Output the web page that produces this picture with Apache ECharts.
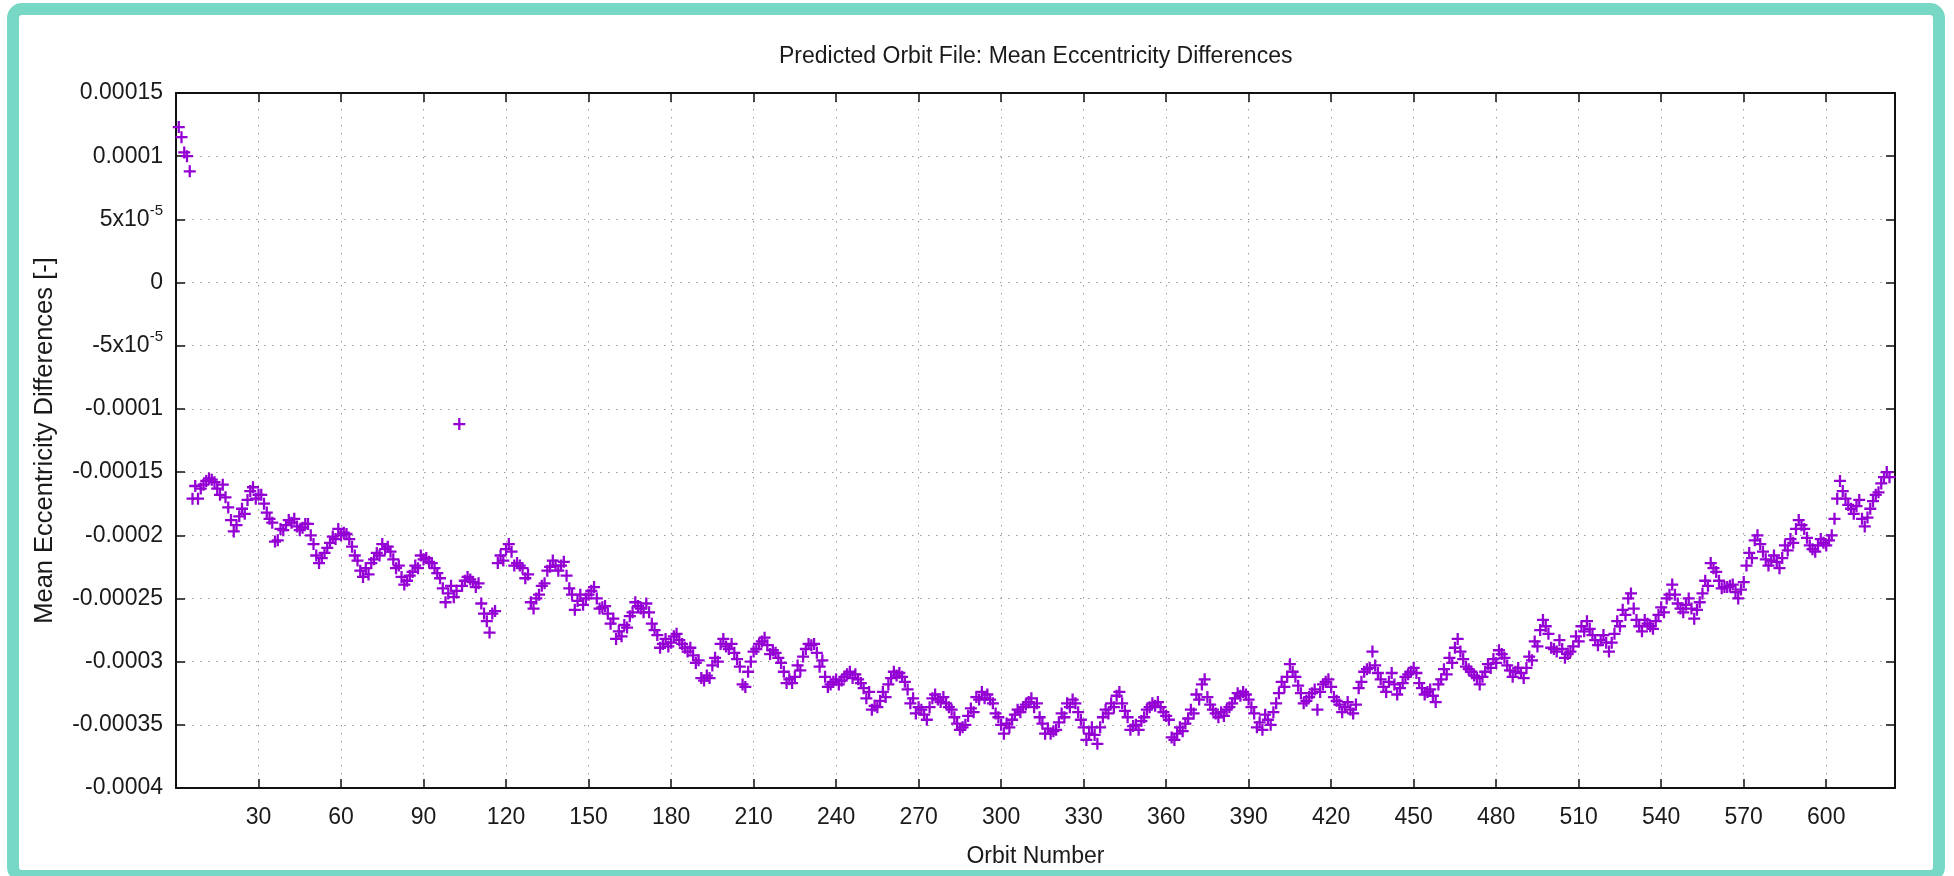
<!DOCTYPE html>
<html>
<head>
<meta charset="utf-8">
<title>Predicted Orbit File: Mean Eccentricity Differences</title>
<script src="https://cdn.jsdelivr.net/npm/echarts@6/dist/echarts.min.js"></script>
<style>
  html, body { margin: 0; padding: 0; width: 1954px; height: 876px; overflow: hidden; background: #fff; }
  .frame {
    position: absolute; left: 7px; top: 3px;
    width: 1914px; height: 855px;
    border: 12px solid #78d8c6; border-radius: 15px; background: #fff;
  }
  #chart { position: absolute; left: 0; top: 0; width: 1954px; height: 876px; }
</style>
</head>
<body>
<div class="frame"></div>
<div id="chart"></div>
<script>
// mean eccentricity differences, one value per orbit, in units of 1e-6
const ORBIT_START = 1;
const UNIT = 1e-6;

const eccDiff001to100 = [
  123, 115, 103, 100, 88,
  -171, -161, -171, -163, -160, -157, -155, -156, -158, -163,
  -168, -160, -170, -178, -188, -197, -192, -185, -179, -183,
  -172, -165, -162, -171, -168, -168, -175, -182, -187, -190,
  -205, -204, -195, -196, -192, -188, -190, -187, -193, -196,
  -194, -191, -191, -200, -207, -216, -222, -218, -214, -210,
  -206, -201, -203, -195, -200, -198, -199, -203, -209, -216,
  -220, -228, -233, -226, -231, -222, -219, -214, -216, -207,
  -211, -209, -213, -219, -226, -224, -233, -239, -236, -232,
  -229, -224, -226, -216, -219, -218, -221, -222, -226, -230,
  -234, -242, -253, -246, -240
];

const eccDiff101to200 = [
  -249, -244, -112, -240, -236, -233, -235, -237, -241, -238,
  -254, -262, -268, -277, -262, -260, -222, -216, -220, -211,
  -207, -213, -224, -222, -224, -226, -234, -231, -253, -258,
  -250, -247, -240, -238, -228, -225, -220, -224, -228, -224,
  -221, -232, -242, -247, -259, -252, -247, -255, -250, -247,
  -244, -241, -250, -258, -257, -256, -262, -270, -266, -282,
  -276, -280, -271, -273, -264, -261, -253, -256, -258, -261,
  -254, -261, -270, -275, -279, -289, -286, -282, -288, -285,
  -280, -278, -283, -286, -289, -292, -289, -295, -301, -299,
  -313, -315, -311, -313, -303, -297, -300, -286, -282, -288
];

const eccDiff201to300 = [
  -290, -286, -293, -298, -304, -318, -320, -308, -300, -292,
  -290, -286, -284, -281, -287, -294, -291, -293, -297, -301,
  -308, -317, -314, -317, -312, -303, -307, -296, -290, -286,
  -287, -286, -293, -304, -299, -312, -320, -318, -316, -314,
  -318, -315, -312, -310, -308, -313, -310, -314, -317, -321,
  -329, -324, -338, -335, -336, -331, -324, -328, -318, -313,
  -308, -311, -309, -312, -316, -322, -333, -329, -341, -336,
  -338, -342, -346, -336, -329, -326, -330, -332, -328, -333,
  -336, -338, -344, -349, -354, -352, -350, -343, -337, -340,
  -328, -330, -324, -329, -326, -330, -333, -341, -344, -350
];

const eccDiff301to400 = [
  -357, -349, -352, -346, -342, -338, -340, -336, -334, -332,
  -329, -336, -333, -344, -349, -357, -353, -357, -355, -354,
  -348, -341, -344, -333, -336, -330, -333, -340, -346, -352,
  -362, -357, -352, -358, -365, -352, -344, -338, -341, -333,
  -336, -327, -324, -333, -339, -344, -354, -351, -350, -354,
  -347, -344, -338, -336, -333, -335, -332, -336, -340, -343,
  -346, -360, -362, -357, -352, -355, -349, -345, -338, -341,
  -326, -330, -318, -314, -328, -334, -338, -341, -344, -340,
  -343, -338, -336, -333, -329, -325, -327, -324, -326, -330,
  -336, -341, -352, -348, -354, -342, -346, -350, -340, -333
];

const eccDiff401to500 = [
  -325, -316, -320, -312, -302, -308, -312, -319, -325, -333,
  -331, -328, -325, -322, -338, -324, -318, -316, -314, -320,
  -328, -331, -334, -340, -336, -332, -338, -341, -334, -321,
  -316, -308, -306, -305, -292, -303, -309, -314, -320, -324,
  -316, -309, -318, -326, -321, -317, -312, -310, -308, -305,
  -309, -317, -321, -326, -324, -322, -327, -332, -318, -314,
  -306, -310, -297, -301, -289, -282, -292, -298, -304, -306,
  -308, -311, -313, -318, -312, -308, -302, -305, -298, -301,
  -291, -294, -297, -303, -307, -312, -308, -305, -309, -313,
  -305, -296, -299, -284, -288, -275, -267, -272, -278, -289
];

const eccDiff501to623 = [
  -290, -292, -283, -290, -297, -294, -292, -288, -280, -284,
  -272, -276, -268, -274, -279, -283, -287, -283, -279, -285,
  -292, -285, -278, -268, -272, -259, -263, -250, -246, -258,
  -267, -272, -276, -267, -270, -272, -274, -268, -263, -257,
  -261, -250, -247, -239, -247, -254, -258, -261, -255, -250,
  -258, -266, -259, -253, -246, -236, -240, -222, -226, -229,
  -236, -242, -241, -241, -240, -239, -245, -250, -243, -237,
  -224, -214, -218, -204, -200, -207, -213, -219, -224, -220,
  -216, -221, -226, -218, -208, -212, -203, -206, -195, -188,
  -192, -195, -202, -208, -211, -213, -208, -203, -206, -208,
  -204, -200, -187, -171, -157, -165, -171, -176, -179, -183,
  -177, -172, -187, -193, -186, -179, -173, -168, -166, -159,
  -154, -150, -154
];

const xTickValues = [30, 60, 90, 120, 150, 180, 210, 240, 270, 300,
  330, 360, 390, 420, 450, 480, 510, 540, 570, 600];
const yTickLabels = ['-0.0004', '-0.00035', '-0.0003', '-0.00025', '-0.0002',
  '-0.00015', '-0.0001', '-5x10^-5', '0', '5x10^-5', '0.0001', '0.00015'];

const X_MIN = 0, X_MAX = 625, X_STEP = 30;
const Y_MIN = -0.0004, Y_MAX = 0.00015, Y_STEP = 0.00005;

const allValues = [].concat(eccDiff001to100, eccDiff101to200, eccDiff201to300,
  eccDiff301to400, eccDiff401to500, eccDiff501to623);
const points = allValues.map((v, i) => [ORBIT_START + i, v * UNIT]);

const FONT = "'Liberation Sans', Arial, Helvetica, sans-serif";
const TEXT = '#1a1a1a';
const FS = 23;
const PLUS = 'path://M0,4.05H4.05V0H5.95V4.05H10V5.95H5.95V10H4.05V5.95H0Z';

const yLabel = (value) => {
  const idx = Math.round((value - Y_MIN) / Y_STEP);
  const txt = yTickLabels[idx];
  if (txt === undefined) return '';
  const parts = txt.split('^');
  if (parts.length === 2) return '{b|' + parts[0] + '}{s|' + parts[1] + '}';
  return '{b|' + txt + '}';
};

const xLabel = (value) => (xTickValues.indexOf(Math.round(value)) >= 0 ? String(Math.round(value)) : '');

const boxLine = { show: true, onZero: false, lineStyle: { color: '#111', width: 2 } };
const inTick = { show: true, inside: true, length: 9, lineStyle: { color: '#111', width: 1.5 } };
const dotted = { show: true, lineStyle: { color: '#9a9a9a', width: 1, type: [1.5, 6.5] } };

const chart = echarts.init(document.getElementById('chart'));

const option = {
  animation: false,
  backgroundColor: 'transparent',
  title: {
    text: 'Predicted Orbit File: Mean Eccentricity Differences',
    left: 779,
    top: 45,
    padding: 0,
    textStyle: { fontFamily: FONT, fontSize: FS, fontWeight: 'normal', color: TEXT }
  },
  grid: { left: 176, right: 59, top: 93, bottom: 88, containLabel: false },
  xAxis: [
    {
      type: 'value',
      position: 'bottom',
      min: X_MIN, max: X_MAX, interval: X_STEP,
      name: 'Orbit Number',
      nameLocation: 'middle',
      nameGap: 57,
      nameTextStyle: { fontFamily: FONT, fontSize: FS, color: TEXT },
      axisLine: boxLine,
      axisTick: inTick,
      axisLabel: { formatter: xLabel, fontFamily: FONT, fontSize: FS, color: TEXT, margin: 18 },
      splitLine: dotted
    },
    {
      type: 'value',
      position: 'top',
      min: X_MIN, max: X_MAX, interval: X_STEP,
      axisLine: boxLine,
      axisTick: inTick,
      axisLabel: { show: false },
      splitLine: { show: false }
    }
  ],
  yAxis: [
    {
      type: 'value',
      position: 'left',
      min: Y_MIN, max: Y_MAX, interval: Y_STEP,
      name: 'Mean Eccentricity Differences [-]',
      nameLocation: 'middle',
      nameGap: 118,
      nameTextStyle: { fontFamily: FONT, fontSize: 25.5, color: TEXT },
      axisLine: boxLine,
      axisTick: inTick,
      axisLabel: {
        formatter: yLabel,
        margin: 13,
        color: TEXT,
        rich: {
          b: { fontFamily: FONT, fontSize: FS, lineHeight: 33, color: TEXT },
          s: { fontFamily: FONT, fontSize: 15, lineHeight: 15, verticalAlign: 'top', color: TEXT }
        }
      },
      splitLine: dotted
    },
    {
      type: 'value',
      position: 'right',
      min: Y_MIN, max: Y_MAX, interval: Y_STEP,
      axisLine: boxLine,
      axisTick: inTick,
      axisLabel: { show: false },
      splitLine: { show: false }
    }
  ],
  series: [
    {
      name: 'Mean Eccentricity Differences',
      type: 'scatter',
      xAxisIndex: 0,
      yAxisIndex: 0,
      clip: false,
      symbol: PLUS,
      symbolSize: 12,
      itemStyle: { color: '#9400d3', opacity: 1 },
      data: points
    }
  ]
};

chart.setOption(option);
</script>
</body>
</html>
